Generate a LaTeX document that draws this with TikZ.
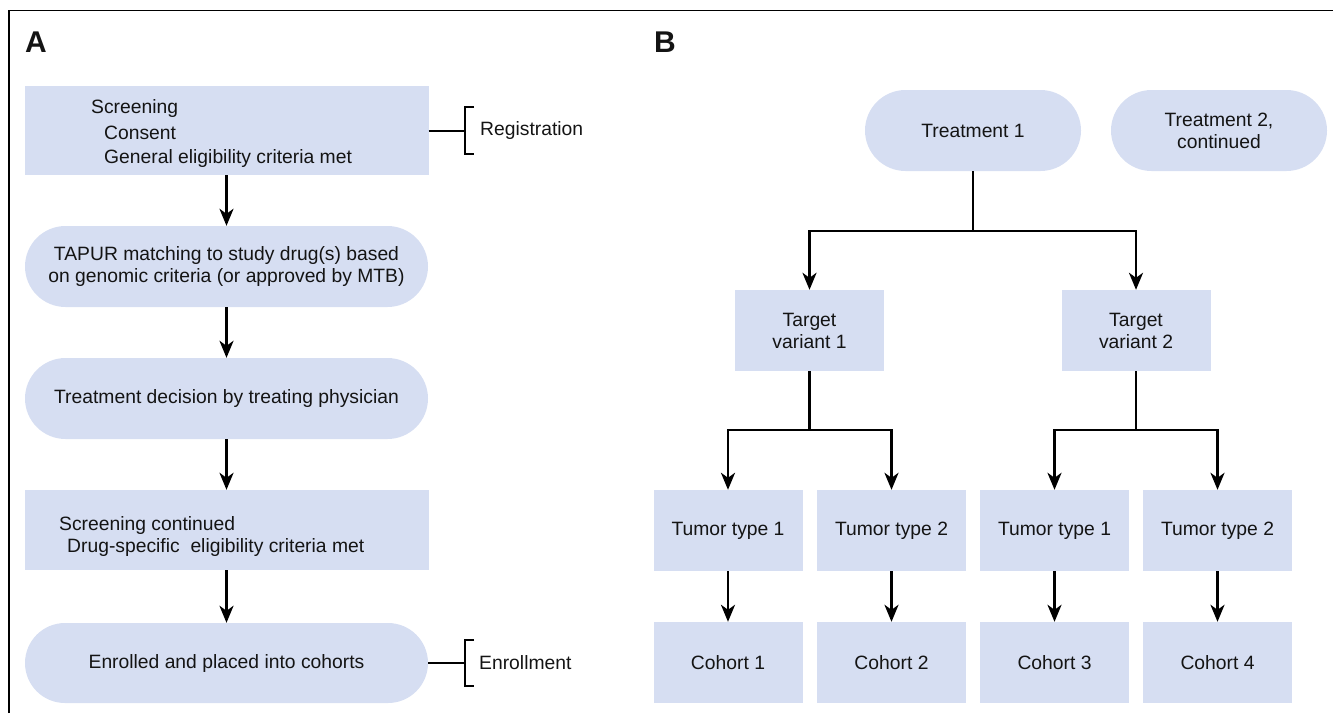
\documentclass[tikz,border=0pt]{standalone}
\usepackage{fontspec}
\setmainfont{Liberation Sans}
\usetikzlibrary{arrows.meta,shapes.misc,calc}
\definecolor{boxblue}{RGB}{214,222,242}
\definecolor{ink}{RGB}{20,20,20}
\begin{document}
\begin{tikzpicture}[x=1pt,y=-1pt,
  every node/.style={font=\fontsize{19.3}{22}\selectfont, inner sep=0pt, text=ink},
  sqbox/.style={rectangle, fill=boxblue, align=center},
  rbox/.style={rounded rectangle, fill=boxblue, align=center},
  arr/.style={line width=2.6pt, -{Stealth[length=17pt,width=14pt,inset=5pt]}},
  conn/.style={line width=2.6pt},
  brk/.style={line width=2pt},
  lbl/.style={font=\fontsize{30}{34}\selectfont\bfseries},
  txt/.style={anchor=base west}]
\useasboundingbox (0,0) rectangle (1333,713);
% frame
\coordinate (fa) at (9,713);
\coordinate (fb) at (9,10.5);
\coordinate (fc) at (1333,10.5);
\draw[line width=1.8pt] (fa) -- (fb) -- (fc);
% labels
\node[lbl] (la) at (36,42) {A};
\node[lbl] (lb) at (665,42) {B};
% ---------------- Panel A
\node[sqbox, minimum width=404pt, minimum height=89pt] (s1) at (226.5,130.5) {};
\node[txt] (s1a) at (91,113) {Screening};
\node[txt] (s1b) at (104,139) {Consent};
\node[txt] (s1c) at (104,163) {General eligibility criteria met};
\node[rbox, minimum width=403pt, minimum height=81pt] (s2) at (226.5,266.5) {TAPUR matching to study drug(s) based\\on genomic criteria (or approved by MTB)};
\node[rbox, minimum width=403pt, minimum height=81pt] (s3) at (226.5,398.5) {Treatment decision by treating physician};
\node[sqbox, minimum width=404pt, minimum height=80pt] (s4) at (226.5,530) {};
\node[txt] (s4a) at (59,530) {Screening continued};
\node[txt] (s4b) at (67,552) {Drug-specific\ \ eligibility criteria met};
\node[rbox, minimum width=403pt, minimum height=80pt] (s5) at (226.5,663) {Enrolled and placed into cohorts};
\draw[arr] (s1) -- (s2);
\draw[arr] (s2) -- (s3);
\draw[arr] (s3) -- (s4);
\draw[arr] (s4) -- (s5);
% registration bracket
\coordinate (rg) at (465,130.5);
\coordinate (rgt) at (465,107);
\coordinate (rgb) at (465,154);
\draw[brk] (s1.east) -- (rg);
\draw[brk] ($(rgt)+(9,0)$) -- (rgt) -- (rgb) -- ($(rgb)+(9,0)$);
\node[anchor=west] (reg) at (480,130.5) {Registration};
% enrollment bracket
\coordinate (en) at (465,663);
\coordinate (ent) at (465,640);
\coordinate (enb) at (465,686);
\draw[brk] (s5.east) -- (en);
\draw[brk] ($(ent)+(9,0)$) -- (ent) -- (enb) -- ($(enb)+(9,0)$);
\node[anchor=west] (enr) at (479,663) {Enrollment};
% ---------------- Panel B
\node[rbox, minimum width=216pt, minimum height=81pt] (t1) at (973,130.5) {Treatment 1};
\node[rbox, minimum width=216pt, minimum height=81pt] (t2) at (1219,130.5) {Treatment 2,\\continued};
\node[sqbox, minimum width=149pt, minimum height=81pt] (v1) at (809.5,330.5) {Target\\variant 1};
\node[sqbox, minimum width=149pt, minimum height=81pt] (v2) at (1136,330.5) {Target\\variant 2};
\node[sqbox, minimum width=149pt, minimum height=81pt] (u1) at (728,530.5) {Tumor type 1};
\node[sqbox, minimum width=149pt, minimum height=81pt] (u2) at (891.5,530.5) {Tumor type 2};
\node[sqbox, minimum width=149pt, minimum height=81pt] (u3) at (1054.5,530.5) {Tumor type 1};
\node[sqbox, minimum width=149pt, minimum height=81pt] (u4) at (1217.5,530.5) {Tumor type 2};
\node[sqbox, minimum width=149pt, minimum height=81pt] (c1) at (728,662.5) {Cohort 1};
\node[sqbox, minimum width=149pt, minimum height=81pt] (c2) at (891.5,662.5) {Cohort 2};
\node[sqbox, minimum width=149pt, minimum height=81pt] (c3) at (1054.5,662.5) {Cohort 3};
\node[sqbox, minimum width=149pt, minimum height=81pt] (c4) at (1217.5,662.5) {Cohort 4};
\coordinate (j1) at (973,231);
\draw[conn] (t1.south) -- (j1);
\draw[arr] (j1) -| (v1.north);
\draw[arr] (j1) -| (v2.north);
\coordinate (j2) at (809.5,430);
\draw[conn] (v1.south) -- (j2);
\draw[arr] (j2) -| (u1.north);
\draw[arr] (j2) -| (u2.north);
\coordinate (j3) at (1136,430);
\draw[conn] (v2.south) -- (j3);
\draw[arr] (j3) -| (u3.north);
\draw[arr] (j3) -| (u4.north);
\draw[arr] (u1) -- (c1);
\draw[arr] (u2) -- (c2);
\draw[arr] (u3) -- (c3);
\draw[arr] (u4) -- (c4);
\end{tikzpicture}
\end{document}
